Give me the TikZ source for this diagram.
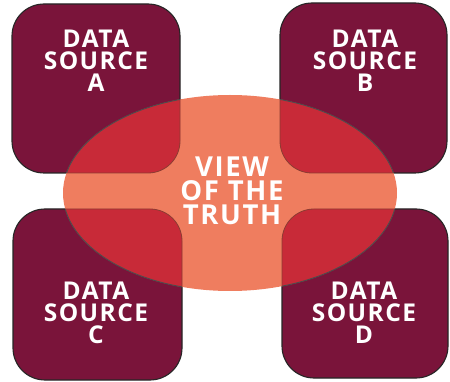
\documentclass[tikz,border=0pt]{standalone}
\usepackage{fontspec}
\setmainfont{Open Sans}
\newfontfamily\lblfont[LetterSpace=6]{Open Sans}
\definecolor{maroon}{RGB}{122,20,58}
\definecolor{salmon}{RGB}{239,125,95}
\definecolor{overlap}{RGB}{200,42,56}
\definecolor{edgebrown}{RGB}{140,60,50}
\begin{document}
\begin{tikzpicture}[x=1pt,y=-1pt,
  lbl/.style={text=white,font=\lblfont\bfseries\fontsize{24.5}{22}\selectfont,align=center,inner sep=0pt},
  bigl/.style={text=white,font=\lblfont\bfseries\fontsize{27.5}{24}\selectfont,align=center,inner sep=0pt}]
\useasboundingbox (0,0) rectangle (450,382);
\def\boxA{(12,4) rectangle (180,173)}
\def\boxB{(280,3) rectangle (447,173)}
\def\boxC{(13,209) rectangle (182,380)}
\def\boxD{(282,209) rectangle (448,378)}
\def\ell{(230,193) ellipse [x radius=167, y radius=98]}
\foreach \b in {\boxA,\boxB,\boxC,\boxD}{
  \filldraw[fill=maroon,draw=black!85,line width=1.1pt,rounded corners=32pt] \b;
}
\fill[salmon] \ell;
\begin{scope}
  \clip \ell;
  \foreach \b in {\boxA,\boxB,\boxC,\boxD}{
    \filldraw[fill=overlap,draw=edgebrown,line width=0.8pt,rounded corners=32pt] \b;
  }
\end{scope}
\foreach \b in {\boxA,\boxB,\boxC,\boxD}{
  \begin{scope}
    \clip[rounded corners=32pt] \b;
    \draw[black!70,line width=0.9pt] \ell;
  \end{scope}
}
\node[lbl] (ta) at (96,61) {DATA\\SOURCE\\A};
\node[lbl] (tb) at (365,61) {DATA\\SOURCE\\B};
\node[lbl] (tc) at (96,313) {DATA\\SOURCE\\C};
\node[lbl] (td) at (364,313) {DATA\\SOURCE\\D};
\node[bigl] (tv) at (232,191) {VIEW\\OF THE\\TRUTH};
\end{tikzpicture}
\end{document}
